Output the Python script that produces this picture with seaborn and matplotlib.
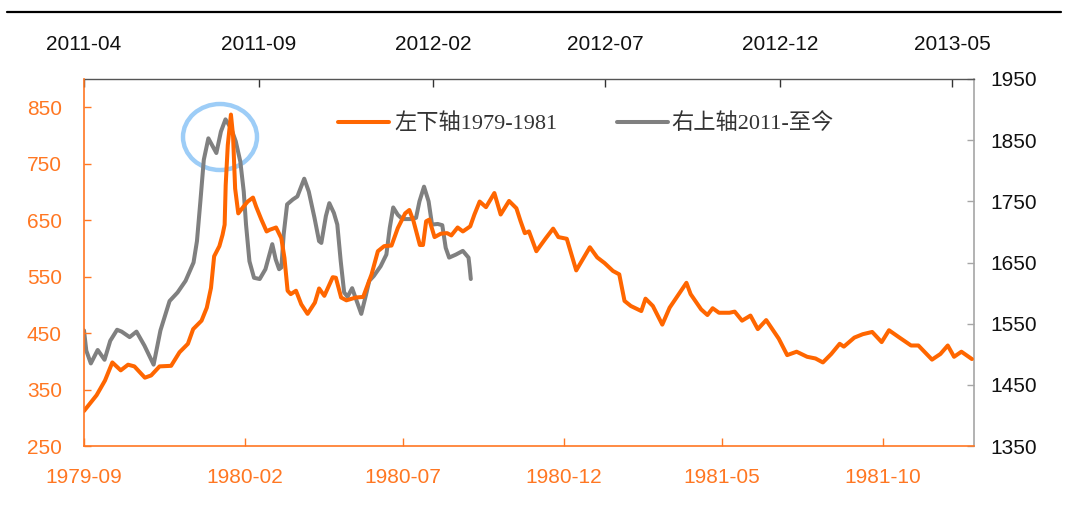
import matplotlib
matplotlib.use("Agg")
import numpy as np
import pandas as pd
import matplotlib.pyplot as plt
import matplotlib.dates as mdates
from matplotlib.patches import Ellipse
from matplotlib.lines import Line2D
import seaborn as sns

sns.set_style("white")
plt.rcParams["font.family"] = ["Liberation Sans", "Noto Sans CJK SC", "DejaVu Sans"]

# ---------------- data ----------------
gold_7981_dates = [
    "1979-09-01", "1979-09-13", "1979-09-21", "1979-09-28", "1979-10-06", "1979-10-13",
    "1979-10-19", "1979-10-29", "1979-11-04", "1979-11-12", "1979-11-23", "1979-12-01",
    "1979-12-09", "1979-12-14", "1979-12-22", "1979-12-27", "1979-12-31", "1980-01-03",
    "1980-01-08", "1980-01-11", "1980-01-13", "1980-01-14", "1980-01-16", "1980-01-19",
    "1980-01-21", "1980-01-23", "1980-01-26", "1980-01-31", "1980-02-04", "1980-02-09",
    "1980-02-12", "1980-02-17", "1980-02-22", "1980-02-25", "1980-03-02", "1980-03-07",
    "1980-03-10", "1980-03-13", "1980-03-16", "1980-03-21", "1980-03-26", "1980-04-01",
    "1980-04-08", "1980-04-12", "1980-04-17", "1980-04-25", "1980-04-28", "1980-05-03",
    "1980-05-08", "1980-05-17", "1980-05-24", "1980-06-01", "1980-06-07", "1980-06-13",
    "1980-06-20", "1980-06-26", "1980-07-03", "1980-07-07", "1980-07-11", "1980-07-17",
    "1980-07-20", "1980-07-23", "1980-07-26", "1980-07-31", "1980-08-06", "1980-08-12",
    "1980-08-16", "1980-08-22", "1980-08-27", "1980-09-03", "1980-09-07", "1980-09-12",
    "1980-09-18", "1980-09-26", "1980-10-02", "1980-10-10", "1980-10-17", "1980-10-21",
    "1980-10-25", "1980-10-29", "1980-11-05", "1980-11-14", "1980-11-21", "1980-11-26",
    "1980-12-04", "1980-12-13", "1980-12-19", "1980-12-26", "1981-01-02", "1981-01-09",
    "1981-01-17", "1981-01-23", "1981-01-28", "1981-02-03", "1981-02-13", "1981-02-17",
    "1981-02-24", "1981-03-05", "1981-03-12", "1981-03-28", "1981-04-01", "1981-04-11",
    "1981-04-17", "1981-04-22", "1981-04-28", "1981-05-08", "1981-05-13", "1981-05-20",
    "1981-05-28", "1981-06-04", "1981-06-12", "1981-06-24", "1981-07-02", "1981-07-11",
    "1981-07-21", "1981-07-29", "1981-08-05", "1981-08-13", "1981-08-21", "1981-08-25",
    "1981-09-04", "1981-09-12", "1981-09-21", "1981-09-30", "1981-10-07", "1981-10-17",
    "1981-10-28", "1981-11-04", "1981-11-17", "1981-11-25", "1981-12-02", "1981-12-08",
    "1981-12-15", "1981-12-25",
]
gold_7981_values = [
    312, 340, 366, 398, 384, 394,
    391, 371, 375, 391, 392, 416,
    431, 457, 472, 495, 530, 586,
    604, 624, 642, 712, 783, 837,
    800, 706, 662, 674, 683, 690,
    674, 651, 630, 633, 637, 618,
    583, 525, 519, 525, 501, 484,
    504, 529, 516, 549, 548, 513,
    508, 513, 514, 554, 595, 604,
    605, 636, 662, 668, 648, 606,
    606, 648, 651, 620, 626, 627,
    623, 637, 630, 639, 660, 683,
    673, 698, 660, 684, 671, 648,
    627, 630, 595, 618, 635, 620,
    617, 561, 580, 602, 584, 574,
    560, 554, 507, 498, 489, 511,
    498, 465, 495, 539, 519, 492,
    482, 494, 486, 486, 488, 472,
    481, 457, 473, 440, 411, 417,
    408, 405, 398, 413, 431, 426,
    442, 448, 452, 434, 455, 442,
    428, 428, 403, 413, 428, 408,
    417, 404,
]

gold_2011_dates = [
    "2011-04-01", "2011-04-03", "2011-04-07", "2011-04-13", "2011-04-19", "2011-04-24",
    "2011-04-30", "2011-05-04", "2011-05-11", "2011-05-17", "2011-05-24", "2011-06-01",
    "2011-06-07", "2011-06-15", "2011-06-22", "2011-06-29", "2011-07-06", "2011-07-09",
    "2011-07-12", "2011-07-15", "2011-07-19", "2011-07-26", "2011-07-30", "2011-08-03",
    "2011-08-08", "2011-08-12", "2011-08-16", "2011-08-19", "2011-08-21", "2011-08-24",
    "2011-08-28", "2011-09-02", "2011-09-07", "2011-09-13", "2011-09-16", "2011-09-19",
    "2011-09-21", "2011-09-23", "2011-09-26", "2011-10-01", "2011-10-05", "2011-10-11",
    "2011-10-15", "2011-10-20", "2011-10-24", "2011-10-26", "2011-10-30", "2011-11-02",
    "2011-11-06", "2011-11-09", "2011-11-12", "2011-11-15", "2011-11-18", "2011-11-22",
    "2011-11-26", "2011-11-30", "2011-12-04", "2011-12-07", "2011-12-11", "2011-12-17",
    "2011-12-22", "2011-12-25", "2011-12-28", "2012-01-01", "2012-01-05", "2012-01-12",
    "2012-01-17", "2012-01-20", "2012-01-24", "2012-01-28", "2012-01-31", "2012-02-05",
    "2012-02-09", "2012-02-12", "2012-02-15", "2012-02-21", "2012-02-27", "2012-03-03",
    "2012-03-04", "2012-03-05",
]
gold_2011_values = [
    1539, 1506, 1485, 1507, 1491, 1522,
    1540, 1537, 1528, 1537, 1514, 1483,
    1539, 1587, 1601, 1620, 1650, 1685,
    1750, 1818, 1853, 1829, 1864, 1884,
    1869, 1848, 1815, 1766, 1712, 1652,
    1625, 1623, 1639, 1680, 1655, 1639,
    1642, 1696, 1745, 1753, 1758, 1787,
    1766, 1723, 1685, 1682, 1726, 1747,
    1731, 1712, 1652, 1601, 1594, 1608,
    1587, 1566, 1596, 1620, 1628, 1644,
    1663, 1707, 1740, 1728, 1721, 1721,
    1723, 1750, 1774, 1750, 1712, 1713,
    1711, 1674, 1658, 1663, 1669, 1658,
    1642, 1623,
]

bottom_ticks = ["1979-09", "1980-02", "1980-07", "1980-12", "1981-05", "1981-10"]
top_ticks = ["2011-04", "2011-09", "2012-02", "2012-07", "2012-12", "2013-05"]
left_ticks = [250, 350, 450, 550, 650, 750, 850]
right_ticks = [1350, 1450, 1550, 1650, 1750, 1850, 1950]
legend_labels = ["左下轴1979-1981", "右上轴2011-至今"]

# ---------------- styling ----------------
ORANGE = "#FF6600"
ORANGE_TXT = "#FF7722"
GRAY = "#808080"
W, H = 1070, 505

fig = plt.figure(figsize=(W / 100, H / 100), dpi=100)
pos = [84 / W, 1 - 446 / H, 890 / W, 367 / H]

# gray series: top / right axes (drawn first, below)
ax_g = fig.add_axes(pos)
sns.lineplot(x=pd.to_datetime(gold_2011_dates), y=gold_2011_values, ax=ax_g,
             color=GRAY, linewidth=2.9, label=legend_labels[1])
# orange series: bottom / left axes (drawn on top)
ax_o = fig.add_axes(pos)
ax_o.patch.set_alpha(0)
sns.lineplot(x=pd.to_datetime(gold_7981_dates), y=gold_7981_values, ax=ax_o,
             color=ORANGE, linewidth=2.9, label=legend_labels[0])

for a in (ax_g, ax_o):
    a.set_xlabel("")
    a.set_ylabel("")
    a.grid(False)
    if a.get_legend() is not None:
        a.get_legend().remove()

# orange axes
ax_o.set_xlim(pd.Timestamp("1979-09-01"), pd.Timestamp("1981-12-27"))
ax_o.set_ylim(250, 900)
ax_o.set_xticks(pd.to_datetime(bottom_ticks))
ax_o.set_xticklabels(bottom_ticks)
ax_o.set_yticks(left_ticks)
ax_o.set_yticklabels([str(v) for v in left_ticks])
for s in ("top", "right"):
    ax_o.spines[s].set_visible(False)
for s in ("left", "bottom"):
    ax_o.spines[s].set_visible(True)
    ax_o.spines[s].set_color(ORANGE_TXT)
    ax_o.spines[s].set_linewidth(1.2)
ax_o.tick_params(axis="x", direction="in", length=6, width=1, color=ORANGE_TXT,
                 labelcolor=ORANGE_TXT, labelsize=15, pad=15.5, bottom=True)
ax_o.tick_params(axis="y", direction="in", length=5, width=1, color=ORANGE_TXT,
                 labelcolor=ORANGE_TXT, labelsize=15, pad=16, left=True)

# gray axes
ax_g.set_xlim(pd.Timestamp("2011-04-01"), pd.Timestamp("2013-05-20"))
ax_g.set_ylim(1350, 1950)
ax_g.xaxis.tick_top()
ax_g.yaxis.tick_right()
ax_g.set_xticks(pd.to_datetime(top_ticks))
ax_g.set_xticklabels(top_ticks)
ax_g.set_yticks(right_ticks)
ax_g.set_yticklabels([str(v) for v in right_ticks])
for s in ("left", "bottom"):
    ax_g.spines[s].set_visible(False)
ax_g.spines["top"].set_visible(True)
ax_g.spines["top"].set_color("#555555")
ax_g.spines["top"].set_linewidth(1.0)
ax_g.spines["right"].set_visible(True)
ax_g.spines["right"].set_color("#A6A6A6")
ax_g.spines["right"].set_linewidth(1.2)
ax_g.tick_params(axis="x", direction="in", length=6, width=1, color="#333333",
                 labelcolor="#111111", labelsize=15, pad=18, top=True, bottom=False)
ax_g.tick_params(axis="y", direction="in", length=5, width=1, color="#A6A6A6",
                 labelcolor="#111111", labelsize=15, pad=11.5, right=True, left=False)

# highlight ellipse around the peaks
ell = Ellipse(((220 - 84) / 890, (446 - 137) / 367), 74 / 890, 66 / 367,
              transform=ax_g.transAxes, fill=False, edgecolor="#9DCDF7",
              linewidth=3.2, zorder=1)
ax_g.add_patch(ell)

# legends
leg_prop = {"family": ["Liberation Serif", "Noto Sans CJK SC"], "size": 16}
h_o = Line2D([], [], color=ORANGE, linewidth=2.9)
h_g = Line2D([], [], color=GRAY, linewidth=2.9)
fig.legend([h_o], [legend_labels[0]], loc="center left",
           bbox_to_anchor=(337.5 / W, 1 - 124 / H), frameon=False, borderpad=0,
           borderaxespad=0, handlelength=2.3, handletextpad=0.25, prop=leg_prop,
           labelcolor="#333333")
fig.legend([h_g], [legend_labels[1]], loc="center left",
           bbox_to_anchor=(616.5 / W, 1 - 124 / H), frameon=False, borderpad=0,
           borderaxespad=0, handlelength=2.3, handletextpad=0.15, prop=leg_prop,
           labelcolor="#333333")

# top rule
fig.add_artist(Line2D([7 / W, 1061 / W], [1 - 11.7 / H, 1 - 11.7 / H],
                      transform=fig.transFigure, color="black", linewidth=1.6))

fig.savefig("out.png", dpi=100)
